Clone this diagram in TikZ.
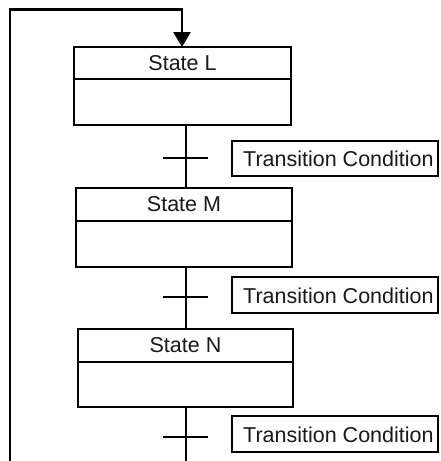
\documentclass[tikz,border=0pt]{standalone}
\usepackage{fontspec}
\setmainfont{Liberation Sans}
\usetikzlibrary{arrows.meta,calc}
\tikzset{
  statebox/.style={draw, line width=1.6pt, inner sep=0pt, fill=white},
  condbox/.style={draw, line width=1.6pt, inner sep=0pt, minimum width=206pt, minimum height=35pt},
  flow/.style={line width=2.8pt},
  bar/.style={line width=1.6pt},
  lbl/.style={font=\fontsize{21.5}{25}\selectfont, inner sep=0pt, text=black!90},
}
\begin{document}
\begin{tikzpicture}[x=1pt,y=-1pt]
\useasboundingbox[fill=white] (0,0) rectangle (441,461);
% stem x reference
\coordinate (s) at (186,0);
% states
\node[statebox, minimum width=217pt, minimum height=78pt] (L) at (182.5,86) {};
\draw[bar] (L.west |- 0,79) -- (L.east |- 0,79);
\node[lbl] (Lt) at (182.5,63.5) {State L};
\node[statebox, minimum width=216pt, minimum height=79pt] (M) at (184,227.5) {};
\draw[bar] (M.west |- 0,221) -- (M.east |- 0,221);
\node[lbl] (Mt) at (184,204.5) {State M};
\node[statebox, minimum width=215pt, minimum height=78pt] (N) at (185.5,368) {};
\draw[bar] (N.west |- 0,362) -- (N.east |- 0,362);
\node[lbl] (Nt) at (185.5,345.5) {State N};
% transition conditions
\node[condbox] (T1) at (335,158.5) {};
\node[lbl, anchor=west] (T1t) at (243,159) {Transition Condition};
\node[condbox, minimum height=36pt] (T2) at (335,295) {};
\node[lbl, anchor=west] (T2t) at (243,295.5) {Transition Condition};
\node[condbox, minimum height=36pt] (T3) at (335,434) {};
\node[lbl, anchor=west] (T3t) at (243,434.5) {Transition Condition};
% stems
\coordinate (endN) at (186,461);
\draw[flow] (L.south -| s) -- (M.north -| s);
\draw[flow] (M.south -| s) -- (N.north -| s);
\draw[flow] (N.south -| s) -- (endN);
% crossbars
\coordinate (c1a) at (163,158); \coordinate (c1b) at (208,158);
\coordinate (c2a) at (163,297); \coordinate (c2b) at (208,297);
\coordinate (c3a) at (163,437); \coordinate (c3b) at (208,437);
\draw[bar] (c1a) -- (c1b);
\draw[bar] (c2a) -- (c2b);
\draw[bar] (c3a) -- (c3b);
% loop back
\coordinate (lb) at (10,461);
\coordinate (lt) at (10,9.5);
\coordinate (rt) at (182,9.5);
\draw[flow, -{Triangle[width=17pt,length=15pt]}, shorten >=-0.8pt] (lb) -- (lt) -- (rt) -- (L.north -| rt);
\end{tikzpicture}
\end{document}
